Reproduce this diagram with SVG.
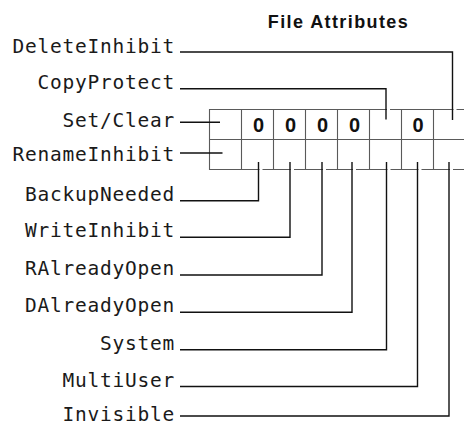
<svg xmlns="http://www.w3.org/2000/svg" width="464" height="426" viewBox="0 0 464 426">
<style>
.lbl{font-family:"DejaVu Sans Mono","Liberation Mono",monospace;font-size:19.5px;letter-spacing:0.76px;fill:#1a1a1a;text-anchor:end}
.bit{font-family:"Liberation Sans",Arial,sans-serif;font-weight:bold;font-size:20px;fill:#111;text-anchor:middle}
.title{font-family:"Liberation Sans",Arial,sans-serif;font-weight:bold;font-size:18px;fill:#111;text-anchor:middle;letter-spacing:1.4px}
.grid{stroke:#5a5a5a;stroke-width:1.1;fill:none}
.con{stroke:#111;stroke-width:1.4;fill:none}
.halo{fill:#fff}
</style>
<rect width="464" height="426" fill="#fff"/>
<g id="title"><text class="title" x="338.5" y="28.3">File Attributes</text></g>
<g id="register">
<path class="grid" d="M470 109.5H209.5V169.5H470M209.5 139.5H470M241.5 109.5V169.5M273.5 109.5V169.5M305.5 109.5V169.5M337.5 109.5V169.5M369.5 109.5V169.5M401.5 109.5V169.5M433.5 109.5V169.5"/>
<text class="bit" x="258.5" y="131.5">0</text>
<text class="bit" x="290.5" y="131.5">0</text>
<text class="bit" x="322.5" y="131.5">0</text>
<text class="bit" x="354.5" y="131.5">0</text>
<text class="bit" x="418" y="131.5">0</text>
</g>
<g id="halos">
<rect class="halo" x="387" y="108" width="3" height="3"/>
<rect class="halo" x="453.5" y="108" width="3" height="3"/>
<rect class="halo" x="259.5" y="168" width="3" height="3"/>
<rect class="halo" x="291" y="168" width="3" height="3"/>
<rect class="halo" x="323" y="168" width="3" height="3"/>
<rect class="halo" x="353" y="168" width="3" height="3"/>
<rect class="halo" x="387.5" y="168" width="3" height="3"/>
<rect class="halo" x="418.5" y="168" width="3" height="3"/>
<rect class="halo" x="450" y="168" width="3" height="3"/>
</g>
<g id="connectors">
<path class="con" d="M180 52H452.5V120"/>
<path class="con" d="M180 88.7H386V119.5"/>
<path class="con" d="M180 122.3H220"/>
<path class="con" d="M180 153H222.5"/>
<path class="con" d="M180 200.7H258.5V162"/>
<path class="con" d="M180 237.3H290V162"/>
<path class="con" d="M180 275H322V162"/>
<path class="con" d="M180 312.3H352V162"/>
<path class="con" d="M180 349.7H386.5V162"/>
<path class="con" d="M180 386.5H417.5V162"/>
<path class="con" d="M180 416H449V162"/>
</g>
<g id="DeleteInhibit"><text class="lbl" x="175" y="52.7">DeleteInhibit</text></g>
<g id="CopyProtect"><text class="lbl" x="175" y="89.3">CopyProtect</text></g>
<g id="SetClear"><text class="lbl" x="175" y="127">Set/Clear</text></g>
<g id="RenameInhibit"><text class="lbl" x="175" y="161.3">RenameInhibit</text></g>
<g id="BackupNeeded"><text class="lbl" x="175" y="200.7">BackupNeeded</text></g>
<g id="WriteInhibit"><text class="lbl" x="175" y="237.3">WriteInhibit</text></g>
<g id="RAlreadyOpen"><text class="lbl" x="175" y="275">RAlreadyOpen</text></g>
<g id="DAlreadyOpen"><text class="lbl" x="175" y="312.3">DAlreadyOpen</text></g>
<g id="System"><text class="lbl" x="175" y="349.7">System</text></g>
<g id="MultiUser"><text class="lbl" x="175" y="386.5">MultiUser</text></g>
<g id="Invisible"><text class="lbl" x="175" y="421">Invisible</text></g>
</svg>
